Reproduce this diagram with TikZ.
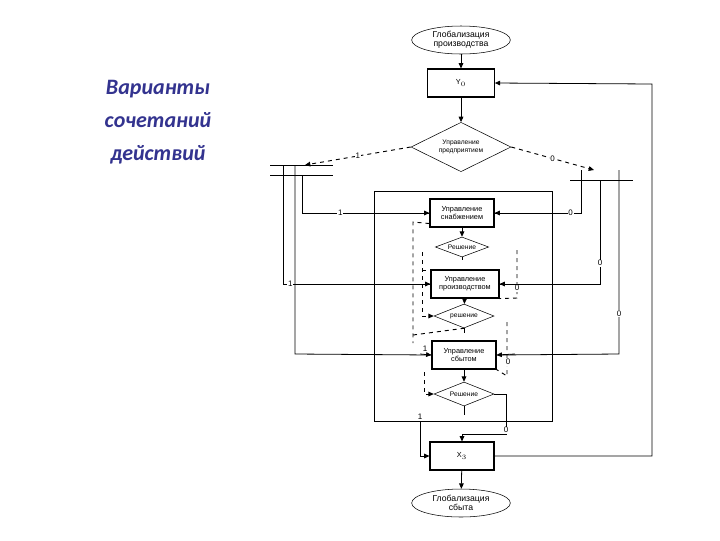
\documentclass[tikz,border=0pt]{standalone}
\usepackage{fontspec}
\setmainfont{Liberation Sans}
\newfontfamily\titlef{Carlito}
\usetikzlibrary{shapes.geometric,arrows.meta}
\begin{document}
\begin{tikzpicture}[x=0.75pt,y=-0.75pt,
 box/.style={draw,thick,minimum width=48pt,minimum height=21pt,align=center,font=\fontsize{5.5}{6}\selectfont,inner sep=1pt},
 dia/.style={draw,diamond,aspect=2.6,align=center,font=\fontsize{5}{5.5}\selectfont,inner sep=0pt},
 term/.style={draw,ellipse,minimum width=74pt,minimum height=21pt,align=center,font=\fontsize{6.5}{7}\selectfont,inner sep=0pt},
 ln/.style={draw,line width=0.6pt},
 dl/.style={draw,dashed,line width=0.7pt},
 ar/.style={-{Triangle[length=4pt,width=3.5pt]}},
 lb/.style={font=\fontsize{6}{6}\selectfont,fill=white,inner sep=0.5pt}]
\useasboundingbox (0,0) rectangle (720,540);
\node[font=\titlef\bfseries\itshape\fontsize{16.5}{24.5}\selectfont,text=blue!45!black!80,align=center] (title) at (158,122) {Варианты\\сочетаний\\действий};

\node[term] (g1) at (461,40) {Глобализация\\производства};
\node[box,minimum width=50pt] (y0) at (461,83) {Y$_0$};
\node[dia,minimum width=75pt,minimum height=37pt] (d0) at (461,147) {Управление\\предприятием};
\node[draw,line width=0.6pt,minimum width=133pt,minimum height=172.5pt] (inner) at (463.5,306) {};
\node[box] (b1) at (462,213) {Управление\\снабжением};
\node[dia,minimum width=40pt,minimum height=15pt] (d1) at (462,247) {Решение};
\node[box,minimum width=51pt] (b2) at (465,284) {Управление\\производством};
\node[dia,minimum width=45pt,minimum height=18pt] (d2) at (464,316) {решение};
\node[box] (b3) at (464,355) {Управление\\сбытом};
\node[dia,minimum width=45pt,minimum height=18pt] (d3) at (464,394) {Решение};
\node[box] (x3) at (462,456) {X$_3$};
\node[term] (g2) at (461,503) {Глобализация\\сбыта};

\coordinate (la) at (305,165); \coordinate (ra) at (594,170);
\draw[ln,ar] (g1) -- (y0);
\draw[ln,ar] (y0) -- (d0);
\draw[dl,ar] (d0.west) -- node[lb]{1} (la);
\draw[dl,ar] (d0.east) -- node[lb]{0} (ra);
% left bus
\draw[ln] (270,165) -- (333,165) (270,175) -- (333,175);
\draw[ln] (283,165) -- (283,284) -- node[lb,pos=0.05]{1} (b2.west);
\draw[ln] (295,165) -- (295,354) -- (b3.west);
\draw[ln] (302,175) -- (302,213) -- node[lb,pos=0.3]{1} (b1.west);
\draw[ln,ar] (420,284) -- (b2.west);
\draw[ln,ar] (420,354) -- (b3.west);
\draw[ln,ar] (420,213) -- (b1.west);
% right bus
\draw[ln] (570,180) -- (633,180);
\draw[ln] (581,170) -- (581,213) -- node[lb,pos=0.12]{0} (b1.east);
\draw[ln,ar] (520,213) -- (b1.east);
\draw[ln] (600,180) -- node[lb,pos=0.8]{0} (600,284) -- (b2.east);
\draw[ln,ar] (520,284) -- (b2.east);
\draw[ln] (619,170) -- node[lb,pos=0.78]{0} (619,354) -- (b3.east);
\draw[ln,ar] (515,354) -- (b3.east);
% chain
\draw[ln,ar] (b1) -- (d1);
\draw[ln,ar] (b2) -- (d2);
\draw[ln,ar] (b3) -- (d3);
\draw[ln] (d1.south) -- (462,260);
\draw[ln] (d2.south) -- (464,333);
\draw[ln] (d3.south) -- (464,415);
% dashed feedback
\draw[dl] (b1.south west) ++(0,-4) -- (413,222) -- (413,343);
\draw[dl,ar] (422,252) -- (422,316) -- (d2.west);
\draw[dl] (422,270) -- (431,270);
\draw[dl] (517,250) -- (517,298) -- (b2.south east);
\draw[dl] (507,322) -- (507,376) -- (b3.south east);
\draw[dl,ar] (424,372) -- (424,394) -- (d3.west);
\draw[dl] (413,335) -- (d2.south);
\node[lb] (l1) at (425,349) {1};
\node[lb] (l0) at (517,288) {0};
\node[lb] (l02) at (508,362) {0};
% exits
\coordinate (c0) at (506,434);
\draw[ln,ar] (d3.east) -- (506,394) -- (c0) -- (462,434) -- (x3.north);
\node[lb] at (506,430) {0};
\draw[ln,ar] (420,421) -- (420,456) -- (x3.west);
\node[lb] at (420,417) {1};
\draw[ln,ar] (x3.east) -- (652,456) -- (652,84) -- (y0.east);
\draw[ln,ar] (x3) -- (g2);
\end{tikzpicture}
\end{document}
